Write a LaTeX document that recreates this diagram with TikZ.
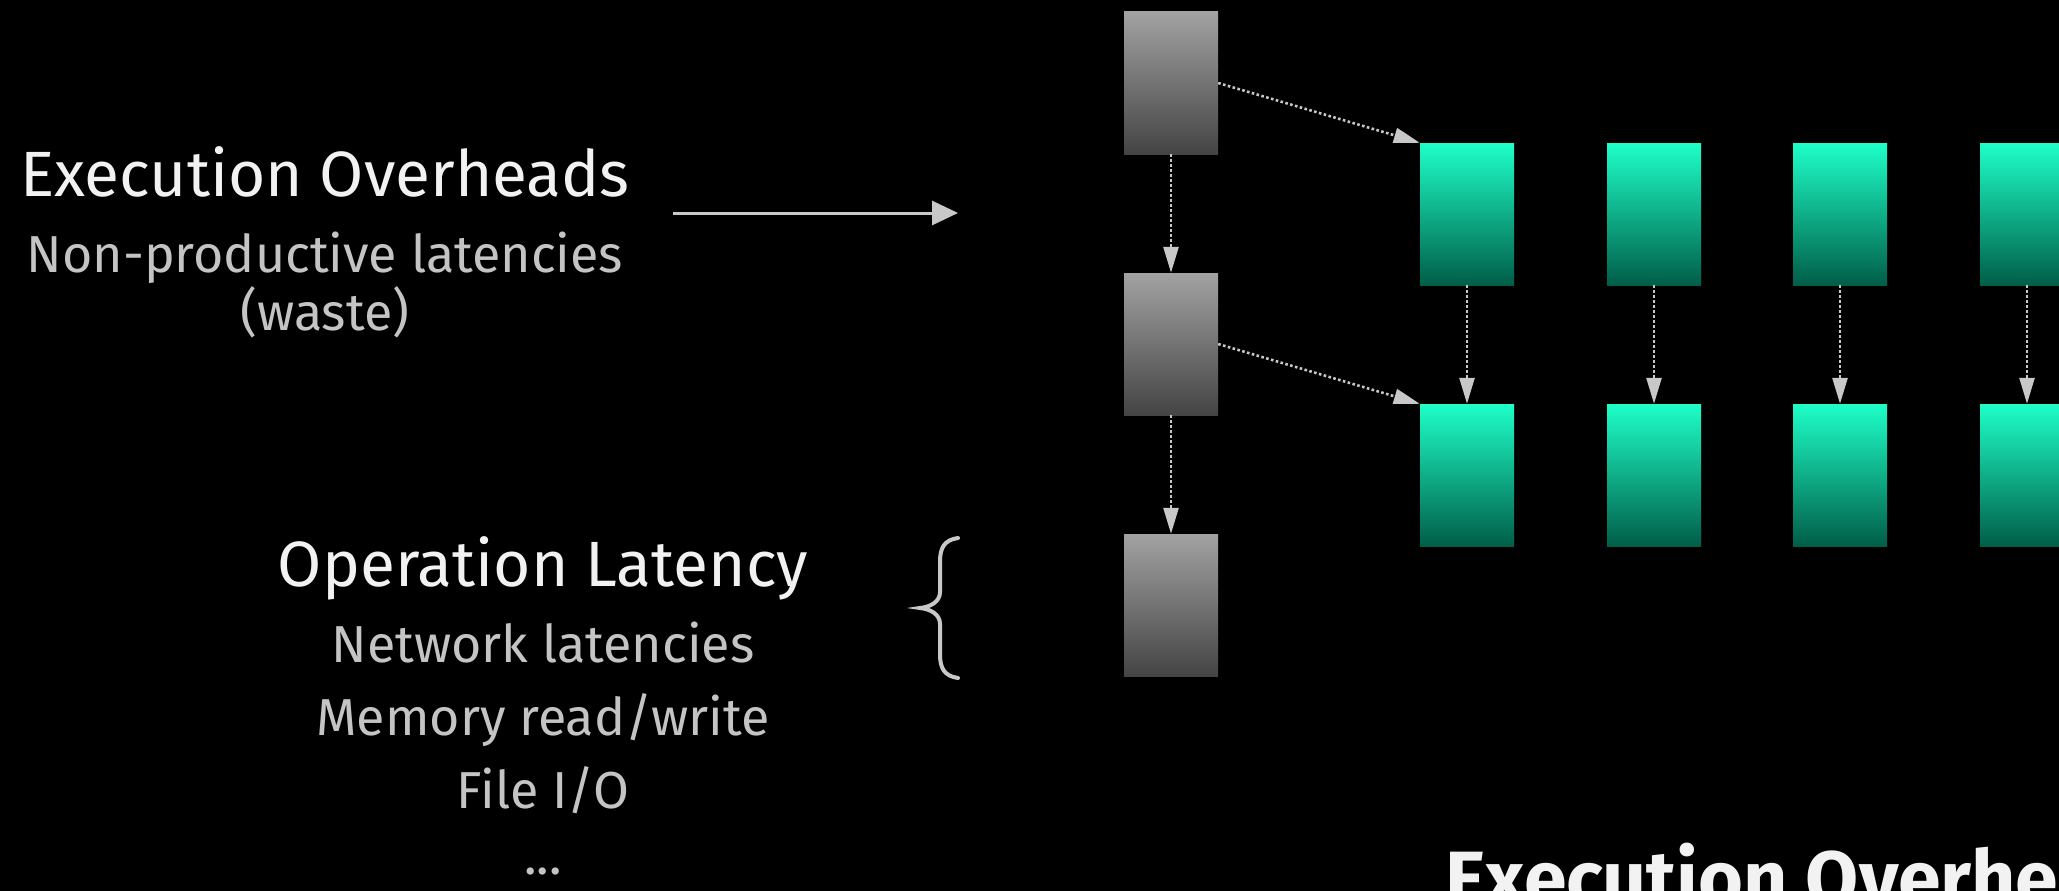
\documentclass[tikz,border=0pt]{standalone}
\usepackage{fontspec}
\setmainfont{Fira Sans}
\usepackage{xcolor}
\usetikzlibrary{arrows.meta}
\definecolor{boxgraytop}{HTML}{A2A2A2}
\definecolor{boxgraybot}{HTML}{444444}
\definecolor{boxgreentop}{HTML}{1EFFC8}
\definecolor{boxgreenbot}{HTML}{005E48}
\definecolor{textwhite}{HTML}{F2F2F2}
\definecolor{textgray}{HTML}{C4C4C4}
\definecolor{linkgray}{HTML}{C8C8C8}
\tikzset{
  graytask/.style={rectangle,minimum width=94pt,minimum height=142pt,inner sep=0pt,
    top color=boxgraytop,bottom color=boxgraybot,draw=none},
  greentask/.style={rectangle,minimum width=94pt,minimum height=142pt,inner sep=0pt,
    top color=boxgreentop,bottom color=boxgreenbot,draw=none},
  dotlink/.style={linkgray,line width=2.6pt,dash pattern=on 2.6pt off 2.4pt,
    -{Triangle[length=26pt,width=15pt,sep=0pt]},shorten >=0pt},
  headline/.style={textwhite,font=\fontsize{64}{76}\selectfont,anchor=base,inner sep=0pt},
  subline/.style={textgray,font=\fontsize{52}{62}\selectfont,anchor=base,inner sep=0pt},
  bigline/.style={textwhite,font=\bfseries\fontsize{77}{92}\selectfont,anchor=base west,inner sep=0pt}
}

\begin{document}
\begin{tikzpicture}[x=1pt,y=1pt]
    \useasboundingbox (0,0) rectangle (2059,-891);
    \fill[black] (0,0) rectangle (2059,-891);
    \clip (0,0) rectangle (2059,-891);

    % left labels
    \node [headline] (exectitle) at (325,-196) {Execution Overheads};
    \node [subline] (execsub) at (325,-272) {Non-productive latencies};
    \node [subline] (execwaste) at (325,-330) {(waste)};
    \coordinate (arrowfrom) at (673,-213);
    \coordinate (arrowto) at (958,-213);
    \draw [linkgray,line width=3pt,-{Triangle[length=26pt,width=24pt]}] (arrowfrom) -- (arrowto);

    \node [headline] (optitle) at (543,-586) {Operation Latency};
    \node [subline] (opnet) at (543,-662) {Network latencies};
    \node [subline] (opmem) at (543,-735) {Memory read/write};
    \node [subline] (opfile) at (543,-808) {File I/O};
    \node [subline] (opmore) at (543,-874) {...};

    % brace
    \draw [linkgray,line width=4pt,line cap=round]
      (958,-538) .. controls (944,-540) and (940,-548) .. (940,-562) -- (940,-592)
      .. controls (940,-602) and (930,-607) .. (920,-608)
      .. controls (930,-609) and (940,-614) .. (940,-624) -- (940,-654)
      .. controls (940,-668) and (944,-676) .. (958,-678);

    % serial tasks
    \node [graytask] (ga) at (1171,-83) {};
    \node [graytask] (gb) at (1171,-344) {};
    \node [graytask] (gc) at (1171,-605) {};

    % parallel tasks
    \node [greentask] (pa1) at (1467,-214) {};
    \node [greentask] (pa2) at (1654,-214) {};
    \node [greentask] (pa3) at (1840,-214) {};
    \node [greentask] (pa4) at (2027,-214) {};
    \node [greentask] (pb1) at (1467,-475) {};
    \node [greentask] (pb2) at (1654,-475) {};
    \node [greentask] (pb3) at (1840,-475) {};
    \node [greentask] (pb4) at (2027,-475) {};

    \draw [dotlink] (ga.south) -- (gb.north);
    \draw [dotlink] (gb.south) -- (gc.north);
    \draw [dotlink] (ga.east) -- (pa1.north west);
    \draw [dotlink] (gb.east) -- (pb1.north west);
    \draw [dotlink] (pa1.south) -- (pb1.north);
    \draw [dotlink] (pa2.south) -- (pb2.north);
    \draw [dotlink] (pa3.south) -- (pb3.north);
    \draw [dotlink] (pa4.south) -- (pb4.north);

    \node [bigline] (bottomtitle) at (1445,-905) {Execution Overheads};
  \end{tikzpicture}
\end{document}
